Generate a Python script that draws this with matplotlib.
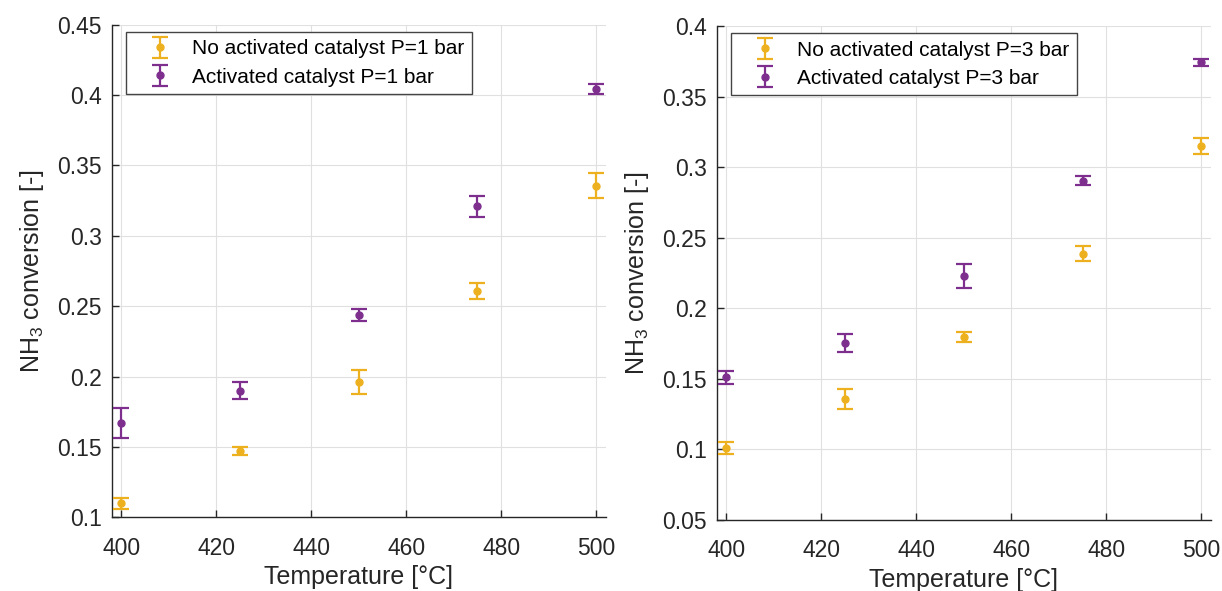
import matplotlib.pyplot as plt
from matplotlib.ticker import FuncFormatter

plt.rcParams['font.family'] = ['Liberation Sans', 'DejaVu Sans']
plt.rcParams['mathtext.default'] = 'regular'

temperature = [400, 425, 450, 475, 500]

# P = 1 bar
no_act_1 = [0.110, 0.147, 0.196, 0.261, 0.3355]
no_act_1_err = [0.004, 0.003, 0.0084, 0.0056, 0.0089]
act_1 = [0.167, 0.190, 0.2437, 0.321, 0.4044]
act_1_err = [0.0105, 0.0058, 0.004, 0.0076, 0.0033]

# P = 3 bar
no_act_3 = [0.101, 0.1355, 0.1797, 0.2387, 0.3148]
no_act_3_err = [0.0045, 0.007, 0.0033, 0.0054, 0.0055]
act_3 = [0.151, 0.1754, 0.2227, 0.2904, 0.3743]
act_3_err = [0.0046, 0.0064, 0.0085, 0.0033, 0.0025]

yellow = '#EDB120'
purple = '#7E2F8E'
dark = '#262626'

fig = plt.figure(figsize=(12.22, 5.91), dpi=100)
ax1 = fig.add_axes([0.0914, 0.1247, 0.4043, 0.8335])
ax2 = fig.add_axes([0.5865, 0.1201, 0.4045, 0.8359])

fmt = FuncFormatter(lambda v, p: ('%g' % round(v, 4)))

def setup(ax, ylim, yticks, series):
    for y, e, c, lab in series:
        ax.errorbar(temperature, y, yerr=e, fmt='o', color=c, ecolor=c,
                    markersize=5, elinewidth=1.6, capsize=6, capthick=1.6,
                    label=lab, zorder=3)
    ax.set_xlim(398, 502)
    ax.set_ylim(*ylim)
    ax.set_xticks([400, 420, 440, 460, 480, 500])
    ax.set_yticks(yticks)
    ax.yaxis.set_major_formatter(fmt)
    ax.grid(True, color='#e0e0e0', linewidth=0.8, zorder=0)
    ax.set_axisbelow(True)
    for s in ['top', 'right']:
        ax.spines[s].set_visible(False)
    for s in ['left', 'bottom']:
        ax.spines[s].set_color(dark)
        ax.spines[s].set_linewidth(1.0)
    ax.tick_params(direction='in', length=5, width=1.0, colors=dark,
                   labelsize=16.5, labelcolor=dark)
    ax.tick_params(axis='x', pad=14)
    ax.tick_params(axis='y', pad=7)
    ax.set_xlabel('Temperature [°C]', fontsize=18, color=dark, labelpad=4)
    ax.set_ylabel('NH$_3$ conversion [-]', fontsize=18, color=dark, labelpad=8)
    leg = ax.legend(loc='upper left', bbox_to_anchor=(0.028, 0.985),
                    borderaxespad=0, fontsize=15, fancybox=False,
                    framealpha=1, edgecolor='#444444', handletextpad=0.25,
                    borderpad=0.35, labelspacing=0.45, handlelength=2.6)
    leg.get_frame().set_linewidth(1.0)

setup(ax1, (0.1, 0.45), [0.1, 0.15, 0.2, 0.25, 0.3, 0.35, 0.4, 0.45],
      [(no_act_1, no_act_1_err, yellow, 'No activated catalyst P=1 bar'),
       (act_1, act_1_err, purple, 'Activated catalyst P=1 bar')])
setup(ax2, (0.05, 0.4), [0.05, 0.1, 0.15, 0.2, 0.25, 0.3, 0.35, 0.4],
      [(no_act_3, no_act_3_err, yellow, 'No activated catalyst P=3 bar'),
       (act_3, act_3_err, purple, 'Activated catalyst P=3 bar')])

fig.savefig('out.png', dpi=100)
